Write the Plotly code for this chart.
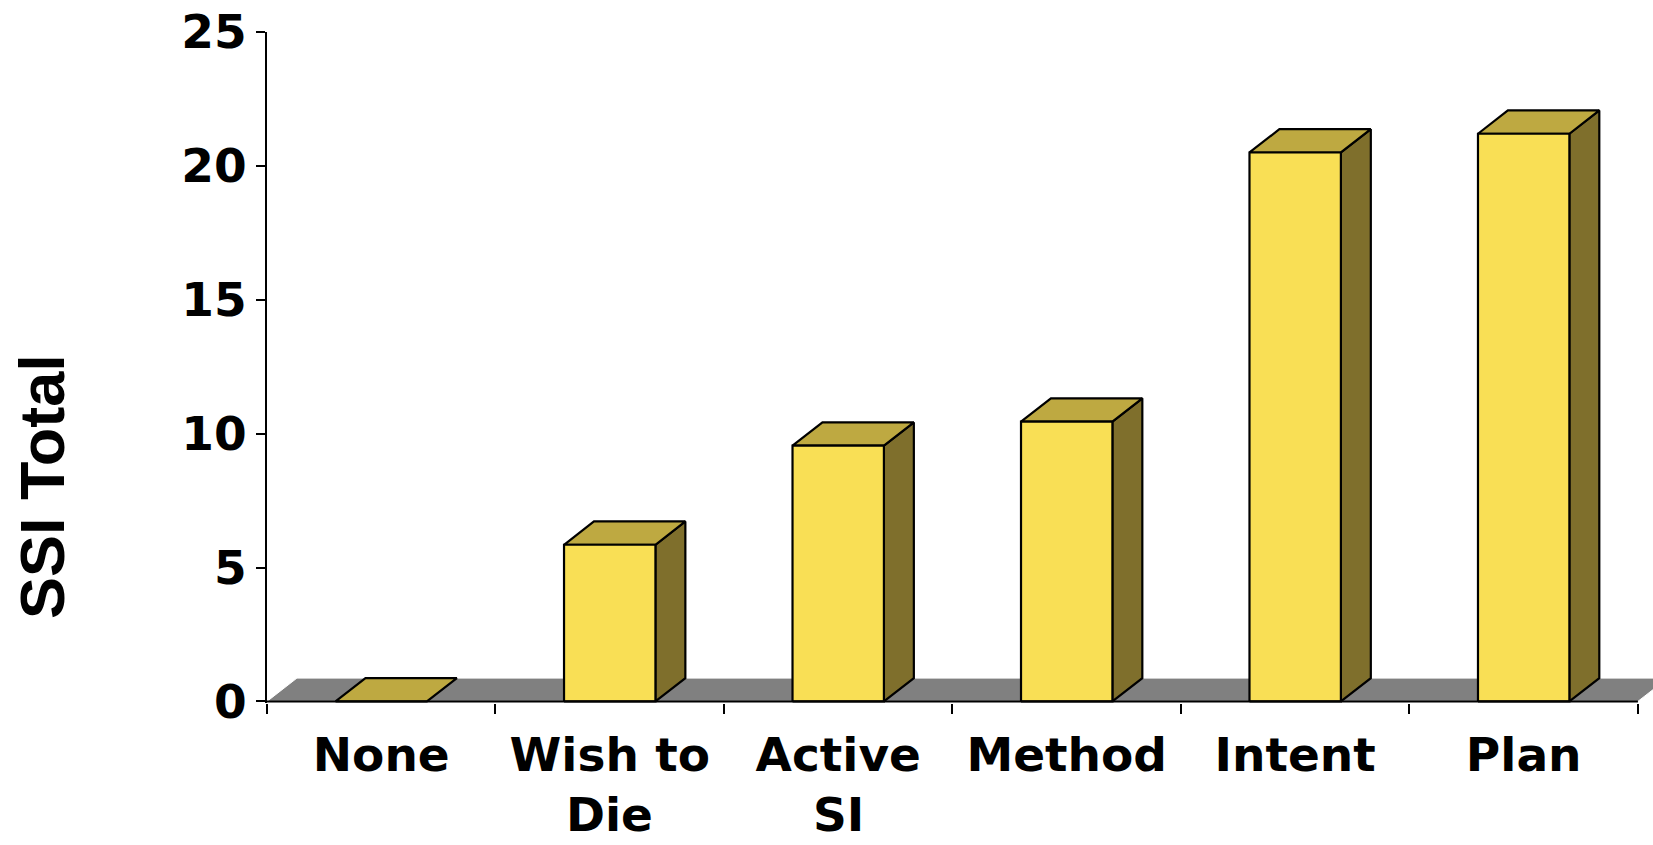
import plotly.graph_objects as go

# ---- data ----
categories = ["None", "Wish to\nDie", "Active\nSI", "Method", "Intent", "Plan"]
ssi_total = [0, 5.85, 9.55, 10.45, 20.5, 21.2]
y_tick_values = [0, 5, 10, 15, 20, 25]
y_axis_title = "SSI Total"

# ---- style ----
FRONT = "#F9DF55"
TOP = "#BEA941"
SIDE = "#7F6F2C"
FLOOR = "#808080"
BAR_W = 0.4      # bar width in category units
DX = 0.131       # 3-D depth offset (x, category units)
DY = 0.87        # 3-D depth offset (y, data units)
TICK_FONT = dict(family="DejaVu Sans", size=47, color="black", weight="bold")

n = len(categories)
xs = list(range(n))
x_lo, x_hi = -0.5, n - 0.5

fig = go.Figure()

def poly(px, py, fill, line_color="black", width=2.2):
    fig.add_trace(go.Scatter(
        x=px + [px[0]], y=py + [py[0]], mode="lines", fill="toself",
        fillcolor=fill, line=dict(color=line_color, width=width),
        hoverinfo="skip", showlegend=False))

# floor
poly([x_lo, x_hi, x_hi + DX, x_lo + DX], [0, 0, DY, DY], FLOOR, line_color="white", width=1)

# bars (side, top, front)
for i, v in zip(xs, ssi_total):
    l, r = i - BAR_W / 2, i + BAR_W / 2
    if v > 0:
        poly([r, r + DX, r + DX, r], [0, DY, v + DY, v], SIDE)
    poly([l, r, r + DX, l + DX], [v, v, v + DY, v + DY], TOP)
    if v > 0:
        poly([l, r, r, l], [0, 0, v, v], FRONT)

# x axis line (drawn only across the category span)
fig.add_trace(go.Scatter(x=[x_lo, x_hi], y=[0, 0], mode="lines",
                         line=dict(color="black", width=2),
                         hoverinfo="skip", showlegend=False))

first_lines = [c.split("\n")[0] for c in categories]
second_lines = [c.split("\n")[1] if "\n" in c else "" for c in categories]

W, H = 1653, 845
ml, mt = 267, 32
fig.update_layout(
    width=W, height=H,
    margin=dict(l=ml, r=0, t=mt, b=142, pad=0),
    paper_bgcolor="white", plot_bgcolor="white",
    showlegend=False,
)
fig.update_xaxes(
    range=[x_lo, x_hi + 0.066],
    tickmode="array", tickvals=xs, ticktext=first_lines,
    ticks="", showline=False, showgrid=False, zeroline=False,
    tickfont=TICK_FONT, ticklabelstandoff=20,
    minor=dict(tickmode="array", tickvals=[x_lo + k for k in range(n + 1)],
               ticks="outside", ticklen=10, tickwidth=2, tickcolor="black",
               showgrid=False),
)
fig.update_yaxes(
    range=[-0.06, 25],
    tickmode="array", tickvals=y_tick_values,
    ticks="outside", ticklen=9, tickwidth=2, tickcolor="black",
    showline=True, linecolor="black", linewidth=2,
    showgrid=False, zeroline=False,
    tickfont=TICK_FONT, ticklabelstandoff=0,
)
# second line of the two-line category labels
for i, t in zip(xs, second_lines):
    if t:
        fig.add_annotation(text=t, x=i, y=0, xref="x", yref="y",
                           xanchor="center", yanchor="top", yshift=-84,
                           showarrow=False, font=TICK_FONT)

fig.add_annotation(
    text=y_axis_title, textangle=-90, showarrow=False,
    xref="paper", yref="paper", x=-0.1623, y=0.322,
    xanchor="center", yanchor="middle",
    font=dict(family="Liberation Sans, Arial", size=63, color="black", weight="bold"),
)

fig.write_html("out.html", config={"displayModeBar": False},
               post_script="document.body.style.margin='0';document.body.style.overflow='hidden';")
